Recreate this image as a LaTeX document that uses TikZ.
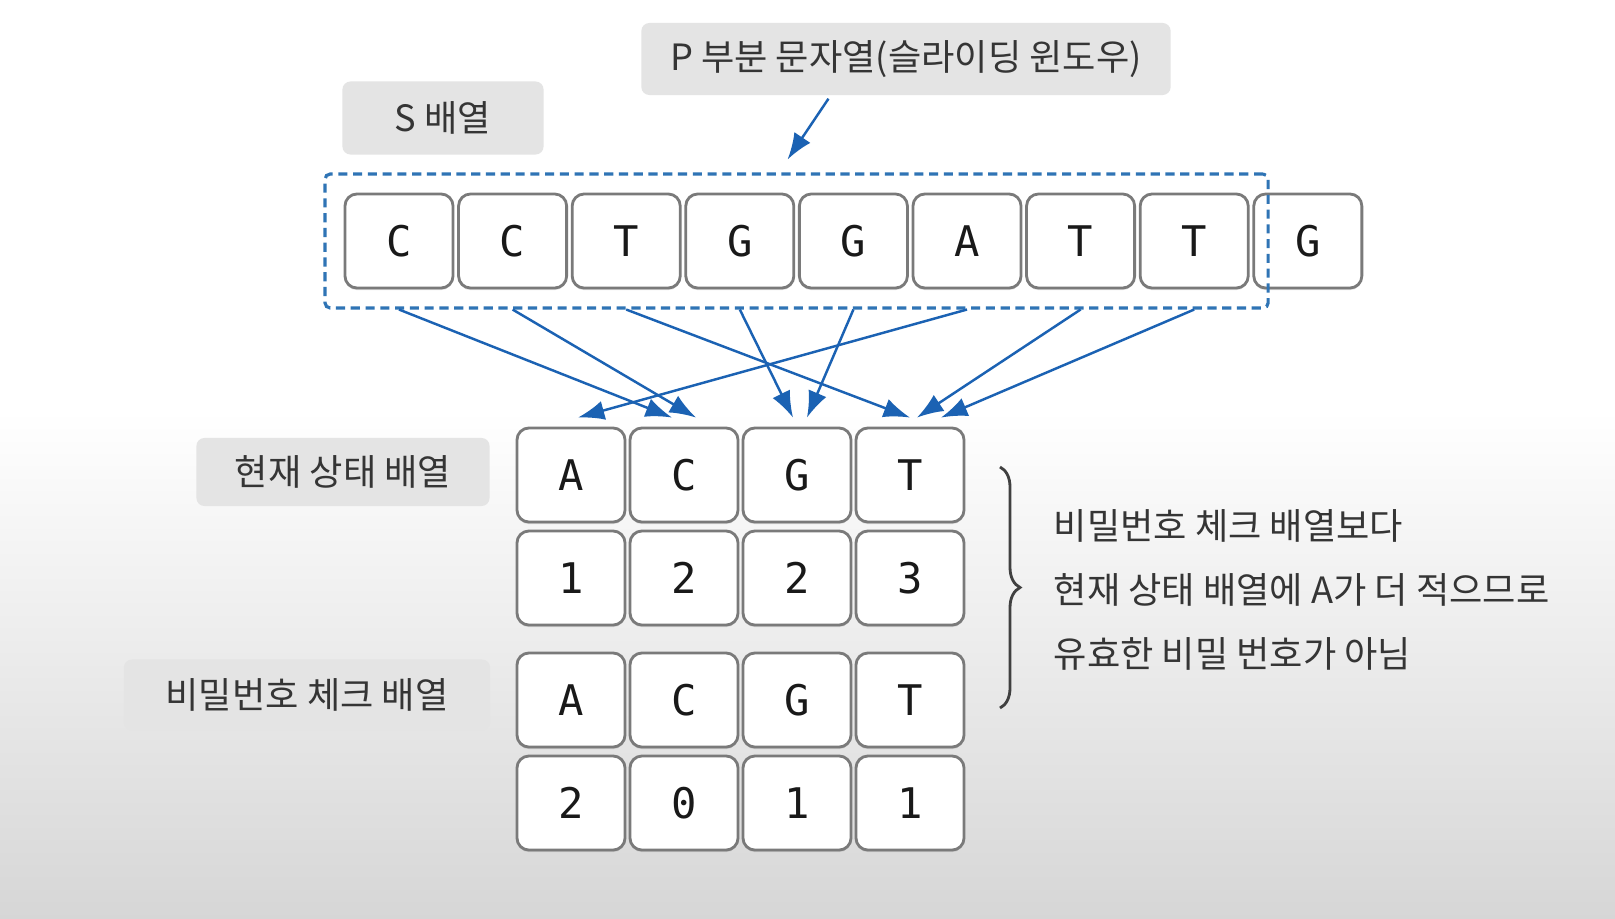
\documentclass[tikz,border=0pt]{standalone}
\usepackage{fontspec}
\newfontfamily\kor{Noto Sans CJK KR}
\newfontfamily\code{DejaVu Sans Mono}
\usetikzlibrary{arrows.meta,fit,shadows,decorations.pathreplacing}
\definecolor{winblue}{HTML}{2F74B5}
\definecolor{arrowblue}{HTML}{1B62B3}
\definecolor{labelgray}{HTML}{E4E4E4}
\definecolor{cellgray}{HTML}{7A7A7A}
\definecolor{textgray}{HTML}{353535}
\begin{document}
\begin{tikzpicture}
  [x=0.01cm,y=-0.01cm,
   cellbox/.style={draw=cellgray,line width=0.8pt,fill=white,rounded corners=0.12cm,
     minimum width=1.08cm,minimum height=0.94cm,inner sep=0pt,
     drop shadow={shadow xshift=0pt,shadow yshift=-0.6pt,opacity=0.25},
     font=\code\fontsize{12}{12}\selectfont,text=black!90},
   tagbox/.style={fill=labelgray,rounded corners=0.08cm,inner sep=0pt,
     font=\kor\fontsize{10.3}{12}\selectfont,text=textgray},
   flow/.style={draw=arrowblue,line width=0.7pt,-{Latex[length=7.5pt,width=5.5pt]}}]
  \useasboundingbox (0,0) rectangle (1615,918);
  \fill[white] (0,0) rectangle (1615,918);
  \shade[top color=white,bottom color=black!16] (0,410) rectangle (1615,918);

  \node[tagbox,minimum width=5.29cm,minimum height=0.72cm] (ptitle) at (906,59) {P 부분 문자열(슬라이딩 윈도우)};
  \node[tagbox,minimum width=2.01cm,minimum height=0.73cm] (sname) at (443,118) {S 배열};
  \node[tagbox,minimum width=2.93cm,minimum height=0.68cm] (curname) at (343,472) {현재 상태 배열};
  \node[tagbox,minimum width=3.66cm,minimum height=0.71cm] (chkname) at (307,695) {비밀번호 체크 배열};

  \foreach \l [count=\i] in {C,C,T,G,G,A,T,T,G}
    \node[cellbox] (s\i) at ({399+113.6*(\i-1)},241) {\l};
  \node[draw=winblue,dash pattern=on 2.6pt off 1.6pt,line width=0.9pt,rounded corners=0.05cm,
    inner sep=0.185cm,fit=(s1)(s8)] (win) {};

  \foreach \l [count=\i] in {A,C,G,T} {
    \node[cellbox] (a\i) at ({571+113*(\i-1)},475) {\l};
    \node[cellbox] (c\i) at ({571+113*(\i-1)},700) {\l};
  }
  \foreach \n [count=\i] in {1,2,2,3}
    \node[cellbox] (b\i) at ({571+113*(\i-1)},578) {\n};
  \foreach \n [count=\i] in {2,0,1,1}
    \node[cellbox] (d\i) at ({571+113*(\i-1)},803) {\n};

  \draw[flow] ([xshift=-0.775cm,yshift=-0.03cm]ptitle.south) -- ([xshift=-0.09cm,yshift=0.13cm]win.north);
  \foreach \from/\to/\dx in {s1/a2/-12,s2/a2/12,s3/a4/0,s4/a3/-4,s5/a3/10,s6/a1/7,s7/a4/7,s8/a4/31}
    \draw[flow] (\from |- win.south) -- ([xshift=\dx*0.01cm,yshift=0.09cm]\to.north);

  \draw[decorate,decoration={brace,amplitude=0.2cm},line width=0.8pt,draw=black!75] (1000,467) -- (1000,708);
  \node[anchor=west,align=left,inner sep=0pt,font=\kor\fontsize{10.3}{18.2}\selectfont,text=textgray]
    (note) at (1053,590) {비밀번호 체크 배열보다\\현재 상태 배열에 A가 더 적으므로\\유효한 비밀 번호가 아님};
\end{tikzpicture}
\end{document}
